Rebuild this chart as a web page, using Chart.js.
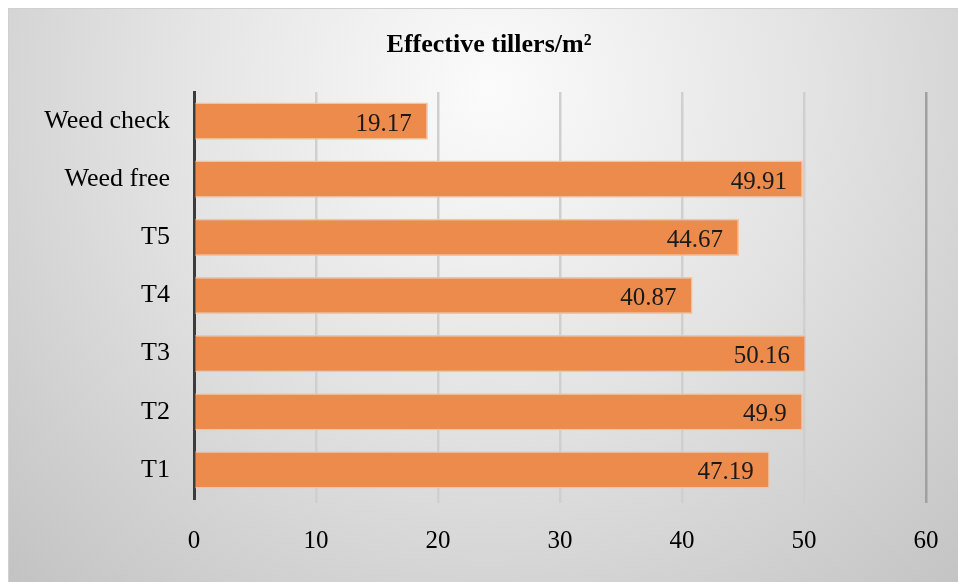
<!DOCTYPE html>
<html>
<head>
<meta charset="utf-8">
<script src="https://cdn.jsdelivr.net/npm/chart.js@4/dist/chart.umd.min.js"></script>
<style>
  html, body { margin: 0; padding: 0; background: #ffffff; }
  #wrap { width: 958px; height: 582px; position: relative; }
</style>
</head>
<body>
<div id="wrap"><canvas id="c" width="958" height="582"></canvas></div>
<script>
const categories = ["Weed check", "Weed free", "T5", "T4", "T3", "T2", "T1"];
const values = [19.17, 49.91, 44.67, 40.87, 50.16, 49.9, 47.19];
const valueLabels = ["19.17", "49.91", "44.67", "40.87", "50.16", "49.9", "47.19"];
const chartTitle = "Effective tillers/m\u00B2";
const xMin = 0, xMax = 60, xStep = 10;

const SERIF = "'Liberation Serif', 'Times New Roman', serif";

const bgPlugin = {
  id: 'bg',
  beforeDraw(chart) {
    const ctx = chart.ctx;
    ctx.save();
    ctx.fillStyle = '#ffffff';
    ctx.fillRect(0, 0, chart.width, chart.height);
    const g = ctx.createRadialGradient(490, 90, 0, 490, 90, 720);
    g.addColorStop(0, '#fbfbfb');
    g.addColorStop(0.45, '#e3e3e3');
    g.addColorStop(1, '#c0c0c0');
    ctx.fillStyle = g;
    ctx.fillRect(8, 8, chart.width - 8, chart.height - 8);
    ctx.strokeStyle = '#d0d0d0';
    ctx.lineWidth = 1;
    ctx.strokeRect(8.5, 8.5, chart.width, chart.height);
    ctx.restore();
  },
  afterDraw(chart) {
    const ctx = chart.ctx;
    ctx.save();
    ctx.font = "bold 26px " + SERIF;
    ctx.fillStyle = '#000000';
    ctx.textAlign = 'center';
    ctx.textBaseline = 'middle';
    ctx.fillText(chartTitle, 489, 45);
    ctx.restore();
  }
};

const labelPlugin = {
  id: 'valLabels',
  afterDatasetsDraw(chart) {
    const ctx = chart.ctx;
    const meta = chart.getDatasetMeta(0);
    ctx.save();
    ctx.font = "25px " + SERIF;
    ctx.fillStyle = '#1a1a1a';
    ctx.textAlign = 'right';
    ctx.textBaseline = 'middle';
    meta.data.forEach((bar, i) => {
      ctx.fillText(valueLabels[i], bar.x - 16, bar.y + 3);
    });
    ctx.restore();
  }
};

new Chart(document.getElementById('c'), {
  type: 'bar',
  data: {
    labels: categories,
    datasets: [{
      data: values,
      backgroundColor: '#ec8b4c',
      borderColor: '#f6c3a0',
      borderWidth: 1.5,
      borderSkipped: 'start',
      barPercentage: 0.64,
      categoryPercentage: 1.0
    }]
  },
  options: {
    indexAxis: 'y',
    responsive: false,
    animation: false,
    devicePixelRatio: 1,
    layout: { padding: { left: 0, right: 32, top: 92, bottom: 10 } },
    plugins: {
      legend: { display: false },
      tooltip: { enabled: false },
      title: { display: false }
    },
    scales: {
      x: {
        min: xMin,
        max: xMax,
        ticks: {
          stepSize: xStep,
          color: '#000000',
          font: { family: SERIF, size: 25 },
          padding: 23
        },
        grid: {
          color: (c) => (c.tick && c.tick.value === xMax) ? '#a0a0a0' : '#cfcfcf',
          lineWidth: 2.5,
          drawTicks: true,
          tickLength: 4
        },
        border: { display: false },
        afterFit(scale) { scale.height = 73; scale.paddingRight = 0; scale.paddingLeft = 0; }
      },
      y: {
        ticks: {
          color: '#000000',
          font: { family: SERIF, size: 26 },
          padding: 24
        },
        grid: { display: false, drawTicks: false },
        border: { display: true, color: '#3c3c3c', width: 3 },
        afterFit(scale) { scale.width = 194; scale.paddingTop = 0; scale.paddingBottom = 0; }
      }
    }
  },
  plugins: [bgPlugin, labelPlugin]
});
</script>
</body>
</html>
